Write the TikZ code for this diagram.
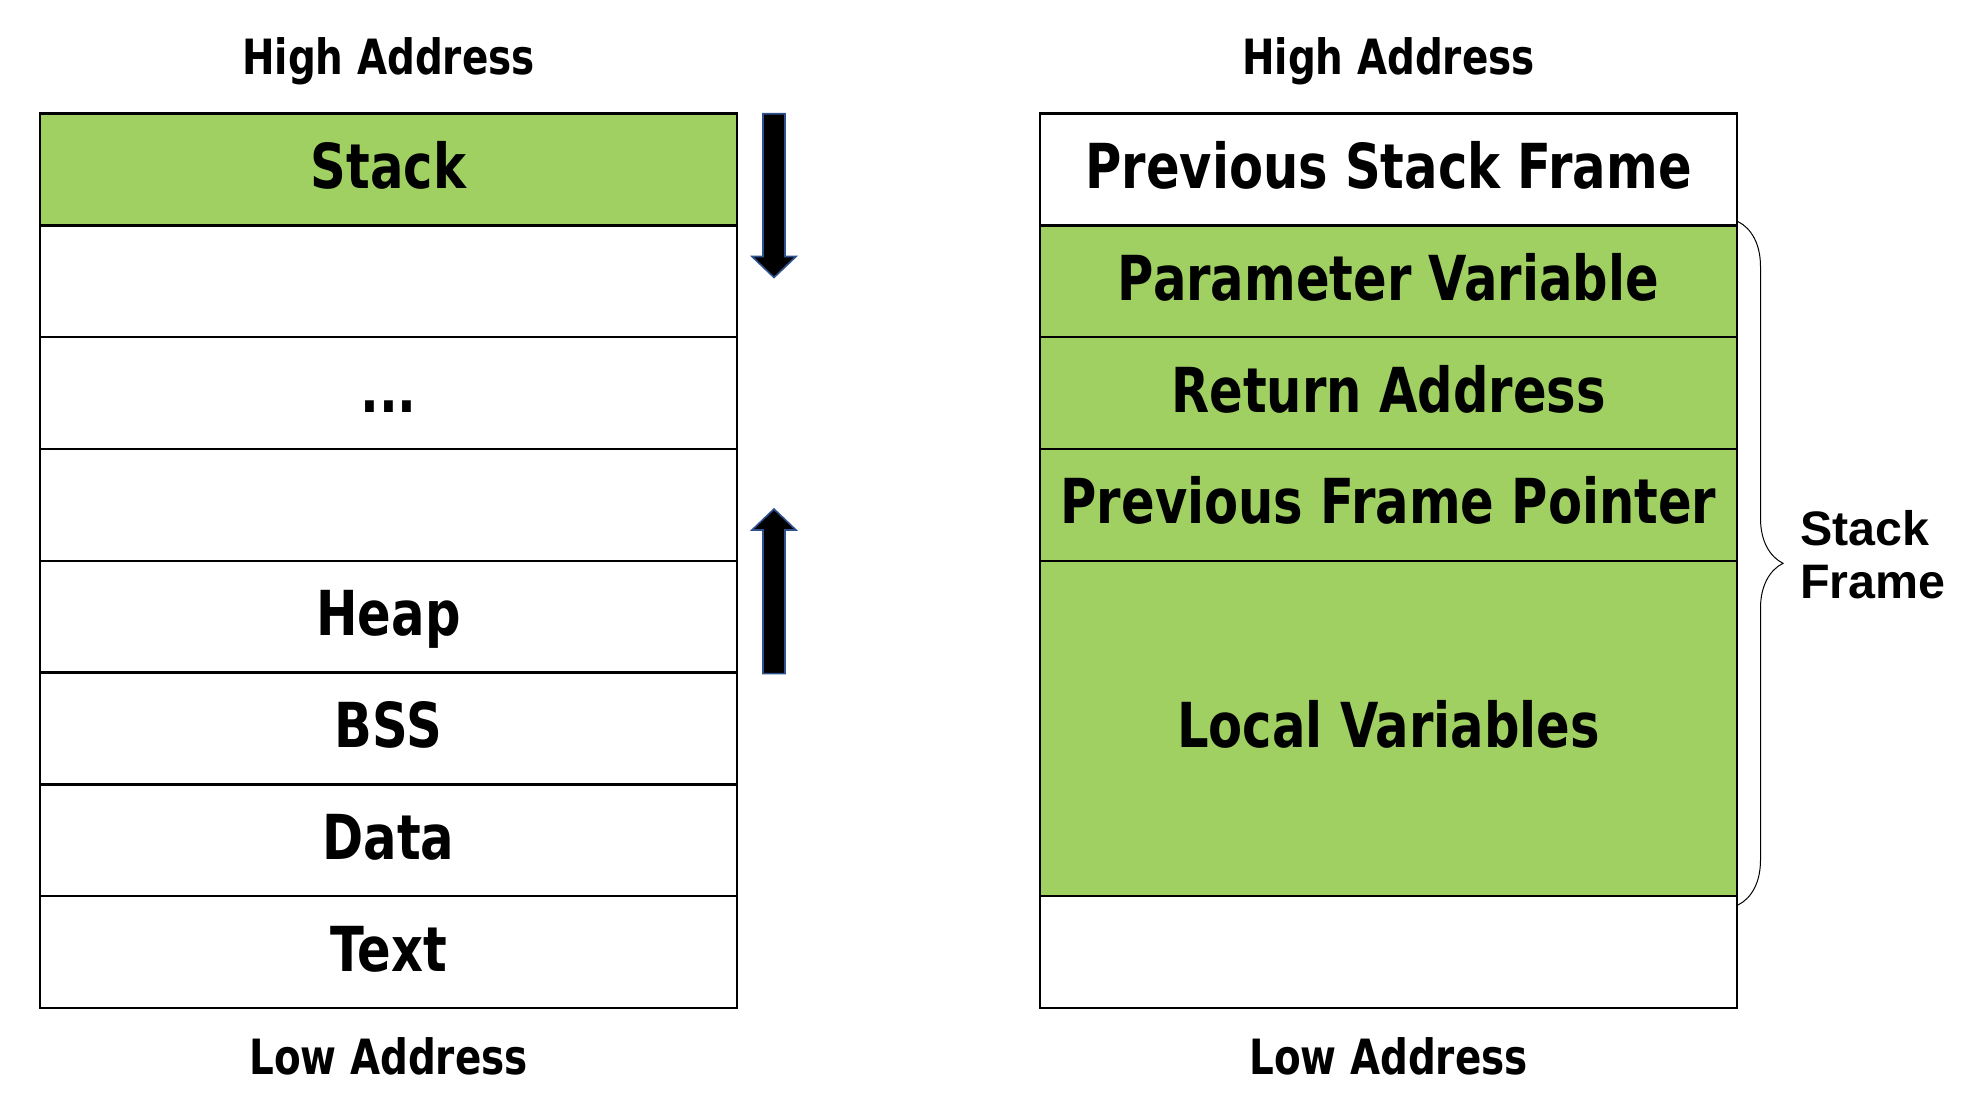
\documentclass[tikz,border=0pt]{standalone}
\usepackage{fontspec}
\newfontfamily\lblfont[FakeStretch=0.8]{DejaVu Sans Bold}
\newfontfamily\bracefont{Liberation Sans Bold}
\usetikzlibrary{decorations.pathreplacing}
\definecolor{stackgreen}{RGB}{160,208,98}
\definecolor{arrowblue}{RGB}{47,82,143}
\begin{document}
\begin{tikzpicture}[x=0.5pt,y=-0.5pt,
  cell/.style={draw=black, line width=1.2pt, minimum width=348.5pt, minimum height=55.9pt,
    inner sep=0pt, outer sep=0pt, anchor=north west,
    font=\lblfont\fontsize{31}{31}\selectfont, text height=22.5pt, text depth=3.5pt},
  gcell/.style={fill=stackgreen},
  addr/.style={font=\lblfont\fontsize{24.3}{24.3}\selectfont, inner sep=0pt,
    text height=18pt, text depth=0pt},
  blockarrow/.style={fill=black, draw=arrowblue, line width=0.8pt, line join=miter},
  bracestyle/.style={decorate, decoration={brace, amplitude=22.5pt}, line width=0.5pt},
  bracelabel/.style={font=\bracefont\fontsize{24.2}{26.5}\selectfont, align=left,
    anchor=west, inner sep=0pt}
]
\useasboundingbox (0,0) rectangle (1978,1110);

% left column
\node[cell,gcell] (l1) at (40,113.5) {Stack};
\node[cell] (l2) at (40,225.3) {};
\node[cell] (l3) at (40,337.1) {...};
\node[cell] (l4) at (40,448.9) {};
\node[cell] (l5) at (40,560.7) {Heap};
\node[cell] (l6) at (40,672.5) {BSS};
\node[cell] (l7) at (40,784.3) {Data};
\node[cell] (l8) at (40,896.1) {Text};

% right column
\node[cell] (r1) at (1040,113.5) {Previous Stack Frame};
\node[cell,gcell] (r2) at (1040,225.3) {Parameter Variable};
\node[cell,gcell] (r3) at (1040,337.1) {Return Address};
\node[cell,gcell] (r4) at (1040,448.9) {Previous Frame Pointer};
\node[cell,gcell,minimum height=167.7pt] (r5) at (1040,560.7) {Local Variables};
\node[cell] (r6) at (1040,896.1) {};

% address labels
\node[addr] (hl) at (388.5,56.5) {High Address};
\node[addr] (hr) at (1388.5,56.5) {High Address};
\node[addr] (ll) at (388.5,1056.5) {Low Address};
\node[addr] (lr) at (1388.5,1056.5) {Low Address};

% growth arrows
\draw[blockarrow] (763,113.7) -- (785,113.7) -- (785,256.5) -- (796,256.5) -- (774,277.5)
  -- (752,256.5) -- (763,256.5) -- cycle;
\draw[blockarrow] (763,673.6) -- (785,673.6) -- (785,530) -- (796,530) -- (774,509)
  -- (752,530) -- (763,530) -- cycle;

% brace
\coordinate (bt) at (1738,221.6);
\coordinate (bb) at (1738,905);
\draw[bracestyle] (bt) -- (bb);
\node[bracelabel] (sf) at (1800,555) {Stack\\Frame};
\end{tikzpicture}
\end{document}
